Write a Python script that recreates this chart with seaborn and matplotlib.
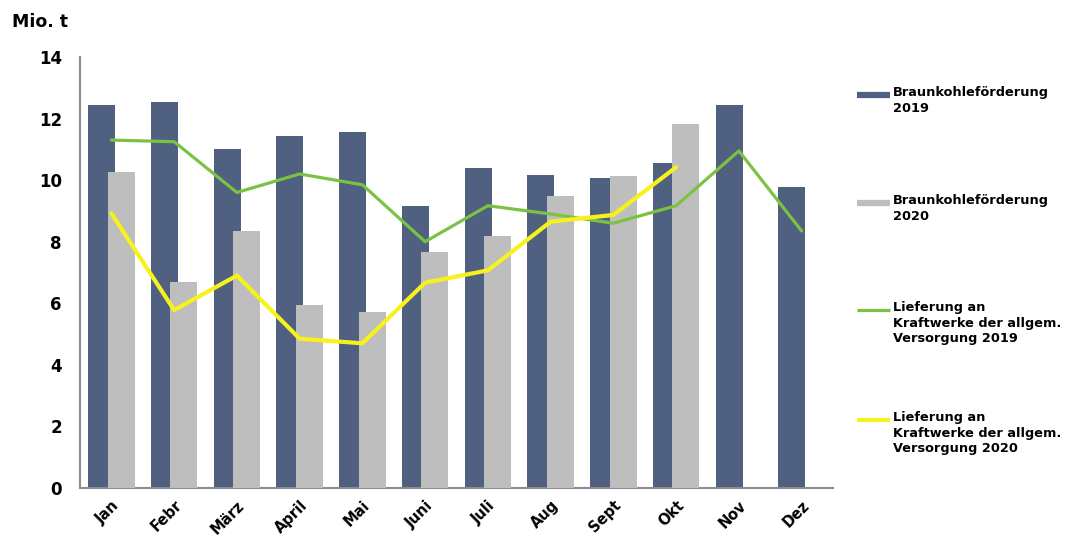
import numpy as np
import pandas as pd
import matplotlib
matplotlib.use("Agg")
import matplotlib.pyplot as plt
from matplotlib.lines import Line2D
import seaborn as sns

months = ["Jan", "Febr", "März", "April", "Mai", "Juni", "Juli", "Aug", "Sept", "Okt", "Nov", "Dez"]
foerderung_2019 = [12.45, 12.55, 11.0, 11.45, 11.55, 9.15, 10.38, 10.18, 10.08, 10.57, 12.43, 9.78]
foerderung_2020 = [10.25, 6.7, 8.35, 5.95, 5.73, 7.68, 8.2, 9.47, 10.13, 11.83, np.nan, np.nan]
lieferung_2019 = [11.3, 11.25, 9.6, 10.2, 9.85, 8.0, 9.17, 8.9, 8.6, 9.17, 10.95, 8.35]
lieferung_2020 = [8.92, 5.78, 6.9, 4.85, 4.7, 6.67, 7.07, 8.65, 8.87, 10.42, np.nan, np.nan]
yticks = [0, 2, 4, 6, 8, 10, 12, 14]

labels = ["Braunkohleförderung\n2019", "Braunkohleförderung\n2020",
          "Lieferung an\nKraftwerke der allgem.\nVersorgung 2019",
          "Lieferung an\nKraftwerke der allgem.\nVersorgung 2020"]

c_dark = "#4F6080"
c_grey = "#BEBEBE"
c_green = "#7CC242"
c_yellow = "#F7F21E"

sns.set_style("white")
plt.rcParams['font.family'] = ['DejaVu Sans']

idx = np.arange(len(months))
df = pd.DataFrame({
    "pos": idx,
    "f19": foerderung_2019,
    "f20": foerderung_2020,
    "l19": lieferung_2019,
    "l20": lieferung_2020,
})

fig = plt.figure(figsize=(10.69, 5.40), dpi=100)
ax = fig.add_axes([80/1069, 1 - 488/540, (833-80)/1069, (488-57)/540])

off = 0.155
bw = 0.43
d19 = pd.DataFrame({"x": idx - off, "y": foerderung_2019})
d20 = pd.DataFrame({"x": idx + off, "y": foerderung_2020}).dropna()
sns.barplot(data=d19, x="x", y="y", native_scale=True, width=bw, color=c_dark,
            saturation=1, ax=ax, errorbar=None, zorder=2, linewidth=0, edgecolor="none")
sns.barplot(data=d20, x="x", y="y", native_scale=True, width=bw, color=c_grey,
            saturation=1, ax=ax, errorbar=None, zorder=3, linewidth=0, edgecolor="none")
sns.lineplot(data=df, x="pos", y="l19", color=c_green, linewidth=2.3, ax=ax, zorder=4)
sns.lineplot(data=df.dropna(), x="pos", y="l20", color=c_yellow, linewidth=3.0, ax=ax, zorder=5)

ax.set_xlim(-0.5, len(months) - 0.5)
ax.set_ylim(0, 14)
ax.set_xlabel("")
ax.set_ylabel("")
ax.set_yticks(yticks)
ax.set_yticklabels([str(v) for v in yticks], fontsize=12, fontweight="bold", color="black")
ax.set_xticks(idx)
ax.set_xticklabels(months, rotation=45, ha="right", rotation_mode="anchor",
                   fontsize=10.5, fontweight="bold", color="black")
ax.set_xticks(np.arange(-0.5, len(months), 1.0), minor=True)
ax.tick_params(axis="x", which="major", length=0, pad=7)
ax.tick_params(axis="x", which="minor", length=5, width=1.2, color="#8C8C8C", direction="out")
ax.tick_params(axis="y", which="major", length=5, width=1.2, color="#8C8C8C", direction="out", pad=8)
for s in ["top", "right"]:
    ax.spines[s].set_visible(False)
for s in ["left", "bottom"]:
    ax.spines[s].set_color("#8C8C8C")
    ax.spines[s].set_linewidth(1.5)
if ax.get_legend():
    ax.get_legend().remove()

fig.text(12/1069, 1 - 22/540, "Mio. t", fontsize=12.5, fontweight="bold", va="center", ha="left",
         color="black")

# legend
entries = [(c_dark, 4.5, 95, 86), (c_grey, 4.5, 203, 194), (c_green, 2.3, 310, 301), (c_yellow, 3.0, 420, 411)]
for (col, lw, hy, ty), lab in zip(entries, labels):
    fig.add_artist(Line2D([857/1069, 890/1069], [1 - hy/540, 1 - hy/540], color=col, linewidth=lw,
                          solid_capstyle="butt", transform=fig.transFigure))
    fig.text(893/1069, 1 - ty/540, lab, fontsize=9.3, fontweight="bold", va="top", ha="left",
             linespacing=1.25, color="black")

fig.savefig("out.png", dpi=100)
